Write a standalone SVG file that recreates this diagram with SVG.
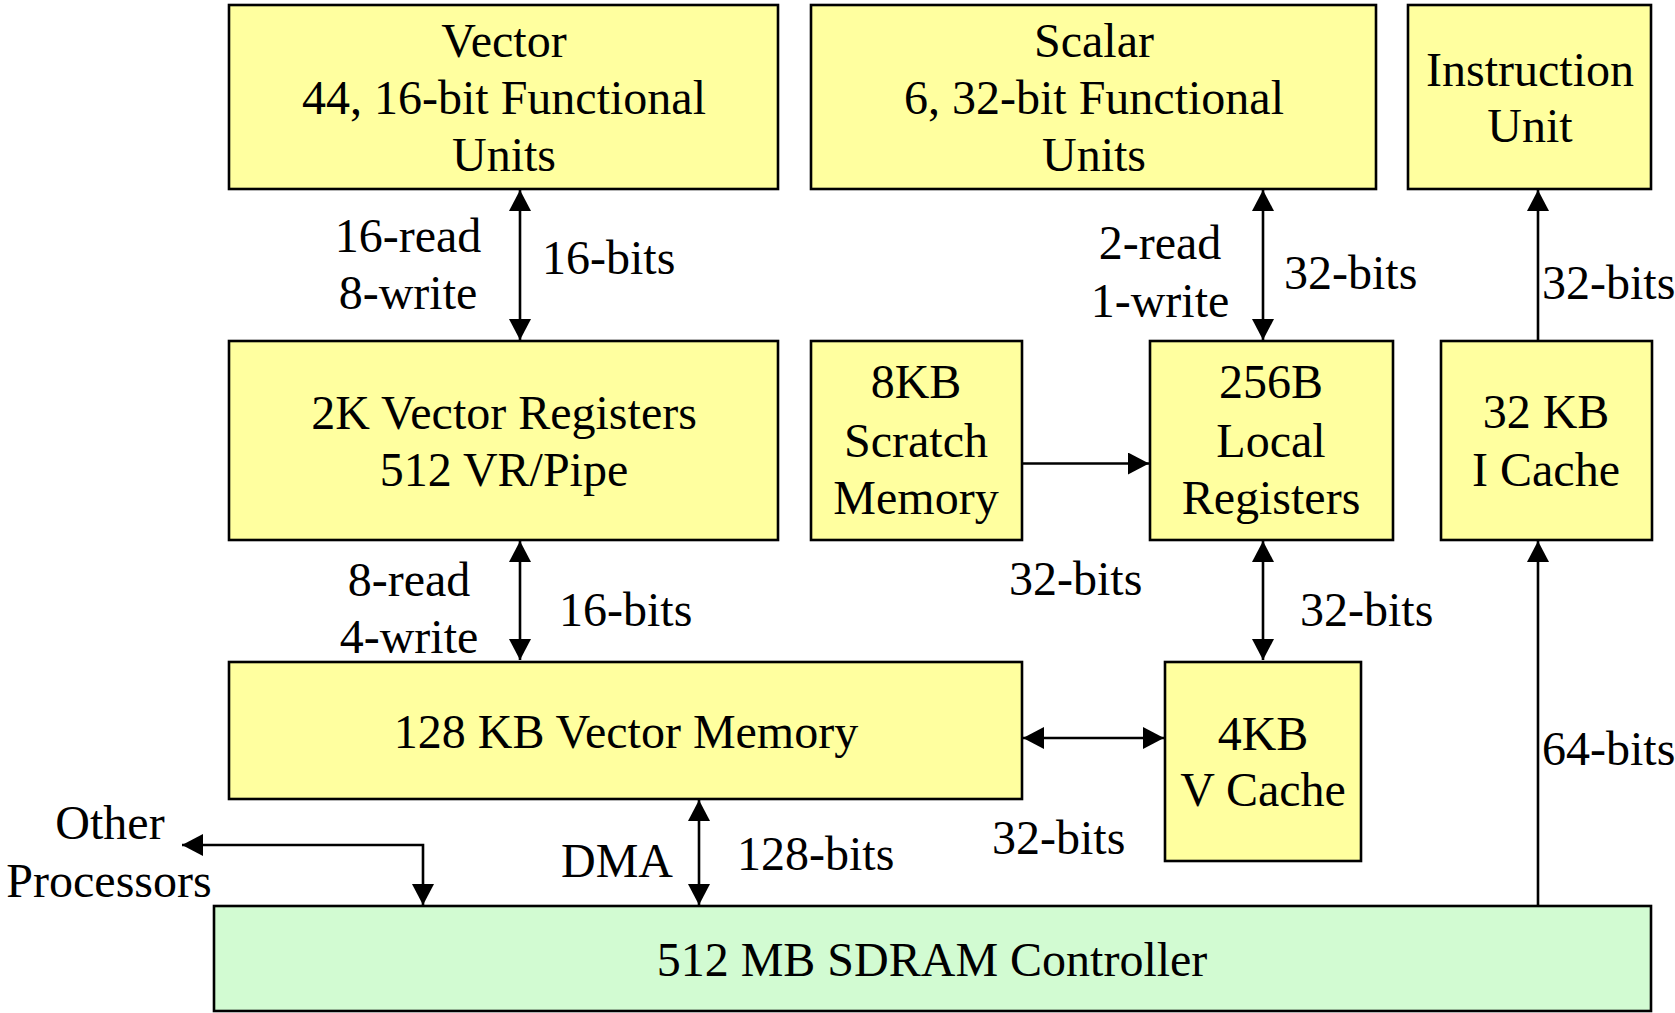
<svg xmlns="http://www.w3.org/2000/svg" width="1675" height="1013" viewBox="0 0 1675 1013">
  <defs>
    <style>
      .blk { fill: #FFFF9F; stroke: #000; stroke-width: 2.6; }
      .mem { fill: #D2FBD2; stroke: #000; stroke-width: 2.6; }
      text { font-family: "Liberation Serif", "Times New Roman", serif; font-size: 48px; fill: #000; }
      .c { text-anchor: middle; }
      .wire { fill: none; stroke: #000; stroke-width: 2.6; }
    </style>
    <marker id="head" viewBox="0 0 21 22" refX="21" refY="11" markerWidth="21" markerHeight="22" markerUnits="userSpaceOnUse" orient="auto-start-reverse">
      <path d="M0,0 L21,11 L0,22 Z" fill="#000"/>
    </marker>
  </defs>

  <rect width="1675" height="1013" fill="#fff"/>

  <!-- connectors -->
  <g id="connectors">
    <line class="wire" x1="520" y1="190" x2="520" y2="340" marker-start="url(#head)" marker-end="url(#head)"/>
    <line class="wire" x1="520" y1="541" x2="520" y2="660" marker-start="url(#head)" marker-end="url(#head)"/>
    <line class="wire" x1="1263" y1="190" x2="1263" y2="340" marker-start="url(#head)" marker-end="url(#head)"/>
    <line class="wire" x1="1263" y1="541" x2="1263" y2="660" marker-start="url(#head)" marker-end="url(#head)"/>
    <line class="wire" x1="1538" y1="341" x2="1538" y2="190" marker-end="url(#head)"/>
    <line class="wire" x1="1538" y1="906" x2="1538" y2="541" marker-end="url(#head)"/>
    <line class="wire" x1="1022" y1="463.5" x2="1149" y2="463.5" marker-end="url(#head)"/>
    <line class="wire" x1="1023" y1="738" x2="1164" y2="738" marker-start="url(#head)" marker-end="url(#head)"/>
    <line class="wire" x1="699" y1="800" x2="699" y2="905" marker-start="url(#head)" marker-end="url(#head)"/>
    <polyline class="wire" points="182,845 423,845 423,905" marker-start="url(#head)" marker-end="url(#head)"/>
  </g>

  <!-- functional units -->
  <g id="vector-fu">
    <rect class="blk" x="229" y="5" width="549" height="184"/>
    <text class="c" x="504" y="57">Vector</text>
    <text class="c" x="504" y="114">44, 16-bit Functional</text>
    <text class="c" x="504" y="171">Units</text>
  </g>
  <g id="scalar-fu">
    <rect class="blk" x="811" y="5" width="565" height="184"/>
    <text class="c" x="1094" y="57">Scalar</text>
    <text class="c" x="1094" y="114">6, 32-bit Functional</text>
    <text class="c" x="1094" y="171">Units</text>
  </g>
  <g id="instruction-unit">
    <rect class="blk" x="1408" y="5" width="243" height="184"/>
    <text class="c" x="1530" y="86">Instruction</text>
    <text class="c" x="1530" y="142">Unit</text>
  </g>

  <!-- register files and local memories -->
  <g id="vector-registers">
    <rect class="blk" x="229" y="341" width="549" height="199"/>
    <text class="c" x="504" y="429">2K Vector Registers</text>
    <text class="c" x="504" y="486">512 VR/Pipe</text>
  </g>
  <g id="scratch-memory">
    <rect class="blk" x="811" y="341" width="211" height="199"/>
    <text class="c" x="916" y="398">8KB</text>
    <text class="c" x="916" y="457">Scratch</text>
    <text class="c" x="916" y="514">Memory</text>
  </g>
  <g id="local-registers">
    <rect class="blk" x="1150" y="341" width="243" height="199"/>
    <text class="c" x="1271" y="398">256B</text>
    <text class="c" x="1271" y="457">Local</text>
    <text class="c" x="1271" y="514">Registers</text>
  </g>
  <g id="icache">
    <rect class="blk" x="1441" y="341" width="211" height="199"/>
    <text class="c" x="1546" y="428">32 KB</text>
    <text class="c" x="1546" y="486">I Cache</text>
  </g>

  <!-- memories -->
  <g id="vector-memory">
    <rect class="blk" x="229" y="662" width="793" height="137"/>
    <text class="c" x="626" y="748">128 KB Vector Memory</text>
  </g>
  <g id="vcache">
    <rect class="blk" x="1165" y="662" width="196" height="199"/>
    <text class="c" x="1263" y="750">4KB</text>
    <text class="c" x="1263" y="806">V Cache</text>
  </g>
  <g id="sdram-controller">
    <rect class="mem" x="214" y="906" width="1437" height="105"/>
    <text class="c" x="932" y="976">512 MB SDRAM Controller</text>
  </g>
  <g id="other-processors">
    <text class="c" x="110" y="839">Other</text>
    <text class="c" x="109" y="897">Processors</text>
  </g>

  <!-- connector labels -->
  <g id="labels">
    <text class="c" x="408" y="252">16-read</text>
    <text class="c" x="408" y="309">8-write</text>
    <text x="542" y="274">16-bits</text>
    <text class="c" x="409" y="596">8-read</text>
    <text class="c" x="409" y="653">4-write</text>
    <text x="559" y="626">16-bits</text>
    <text class="c" x="1160" y="259">2-read</text>
    <text class="c" x="1160" y="317">1-write</text>
    <text x="1284" y="289">32-bits</text>
    <text x="1542" y="299">32-bits</text>
    <text x="1009" y="595">32-bits</text>
    <text x="1300" y="626">32-bits</text>
    <text x="992" y="854">32-bits</text>
    <text x="1542" y="765">64-bits</text>
    <text x="561" y="877">DMA</text>
    <text x="737" y="870">128-bits</text>
  </g>
</svg>
